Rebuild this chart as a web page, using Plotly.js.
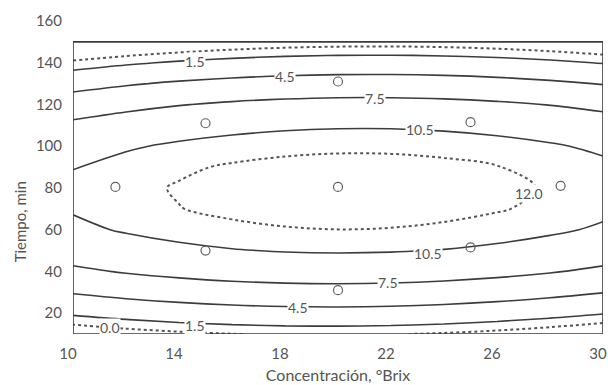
<!DOCTYPE html>
<html>
<head>
<meta charset="utf-8">
<script src="https://cdn.plot.ly/plotly-3.0.1.min.js"></script>
<style>html,body{margin:0;padding:0;background:#fff;}#chart{width:608px;height:385px;}</style>
</head>
<body>
<div id="chart"></div>
<script>
// Concentration (°Brix) grid
var brix = [10, 12, 14, 16, 18, 20, 22, 24, 26, 28, 30];
// Time (min) grid
var tiempo = [10, 20, 30, 40, 50, 60, 70, 80, 90, 100, 110, 120, 130, 140, 150];
// Response values (rows = tiempo, cols = brix)
var respuesta = [
  [-1.52, -0.87, -0.38, -0.04, 0.16, 0.20, 0.09, -0.17, -0.58, -1.14, -1.85],
  [1.87, 2.52, 3.03, 3.38, 3.59, 3.64, 3.54, 3.29, 2.89, 2.34, 1.64],
  [4.71, 5.38, 5.89, 6.26, 6.47, 6.54, 6.45, 6.21, 5.82, 5.28, 4.59],
  [7.02, 7.70, 8.22, 8.60, 8.82, 8.89, 8.82, 8.59, 8.21, 7.68, 7.00],
  [8.79, 9.47, 10.01, 10.39, 10.63, 10.71, 10.64, 10.43, 10.06, 9.54, 8.87],
  [10.01, 10.71, 11.25, 11.65, 11.89, 11.99, 11.93, 11.72, 11.36, 10.86, 10.20],
  [10.70, 11.40, 11.96, 12.36, 12.62, 12.72, 12.68, 12.48, 12.13, 11.63, 10.98],
  [10.84, 11.56, 12.13, 12.54, 12.81, 12.92, 12.88, 12.70, 12.36, 11.87, 11.23],
  [10.45, 11.18, 11.75, 12.18, 12.45, 12.58, 12.55, 12.38, 12.05, 11.57, 10.94],
  [9.51, 10.25, 10.84, 11.27, 11.56, 11.69, 11.68, 11.51, 11.20, 10.73, 10.11],
  [8.04, 8.79, 9.39, 9.83, 10.13, 10.27, 10.27, 10.11, 9.80, 9.35, 8.74],
  [6.03, 6.78, 7.39, 7.85, 8.15, 8.31, 8.31, 8.17, 7.87, 7.43, 6.83],
  [3.47, 4.24, 4.86, 5.32, 5.64, 5.81, 5.82, 5.69, 5.40, 4.96, 4.38],
  [0.38, 1.16, 1.78, 2.26, 2.59, 2.76, 2.79, 2.66, 2.39, 1.96, 1.38],
  [-3.26, -2.47, -1.83, -1.34, -1.01, -0.82, -0.78, -0.90, -1.17, -1.58, -2.15]
];
// Experimental design points
var puntosBrix = [11.6, 15, 15, 20, 20, 20, 25, 25, 28.4];
var puntosTiempo = [80.5, 111, 50, 131, 80.5, 31, 111.5, 51.5, 81];
// Contour label texts and where they sit
var etiquetas = ["1.5", "4.5", "7.5", "10.5", "12.0", "10.5", "7.5", "4.5", "1.5", "0.0"];
var etiquetaX = [14.6, 18.0, 21.4, 23.1, 27.2, 23.4, 21.9, 18.5, 14.6, 11.4];
var etiquetaY = [140.5, 133.2, 123.1, 108.2, 77.5, 48.8, 34.9, 22.9, 14.3, 13.3];
var yTicks = [20, 40, 60, 80, 100, 120, 140, 160];
var xTicks = [10, 14, 18, 22, 26, 30];

var FONT = "Lato, 'Open Sans', sans-serif";
var INK = "#3c3c3c";
var TXT = "#555555";

var traces = [
  {
    type: "contour", x: brix, y: tiempo, z: respuesta,
    showscale: false, hoverinfo: "skip",
    contours: {coloring: "none", start: 1.5, end: 10.5, size: 3, showlabels: false},
    line: {color: INK, width: 1.6, smoothing: 1}
  },
  {
    type: "contour", x: brix, y: tiempo, z: respuesta,
    showscale: false, hoverinfo: "skip",
    contours: {coloring: "none", start: 0, end: 12, size: 12, showlabels: false},
    line: {color: "#555", width: 2, dash: "dot", smoothing: 1}
  },
  {
    type: "scatter", mode: "markers", x: puntosBrix, y: puntosTiempo,
    hoverinfo: "skip", showlegend: false,
    marker: {symbol: "circle-open", size: 9, color: "#606060", line: {width: 1.2, color: "#606060"}}
  }
];

var annotations = etiquetas.map(function (t, i) {
  return {
    x: etiquetaX[i], y: etiquetaY[i], xref: "x", yref: "y", text: t, showarrow: false,
    font: {family: FONT, size: 14, color: TXT}, bgcolor: "#ffffff", borderpad: 0
  };
});
annotations.push({
  xref: "paper", yref: "y", x: -0.100, y: 63.5, xanchor: "center", yanchor: "middle",
  text: "Tiempo, min", textangle: -90, showarrow: false,
  font: {family: FONT, size: 15, color: TXT}
});

var layout = {
  width: 608, height: 385,
  margin: {l: 73, r: 5, t: 21, b: 51},
  paper_bgcolor: "#ffffff", plot_bgcolor: "rgba(0,0,0,0)",
  showlegend: false,
  font: {family: FONT, color: TXT},
  xaxis: {
    range: [10, 30], tickvals: xTicks, ticktext: xTicks.map(String), ticks: "",
    showgrid: false, zeroline: false, showline: false,
    tickfont: {family: FONT, size: 15, color: TXT},
    ticklabelstandoff: 9, ticklabelshift: -5,
    title: {text: "Concentración, °Brix", font: {family: FONT, size: 16, color: TXT}, standoff: 8}
  },
  yaxis: {
    range: [10, 160], tickvals: yTicks, ticktext: yTicks.map(String), ticks: "",
    showgrid: false, zeroline: false, showline: false,
    tickfont: {family: FONT, size: 15, color: TXT},
    ticklabelstandoff: 10
  },
  shapes: [{
    type: "rect", xref: "x", yref: "y", x0: 10, x1: 30, y0: 10, y1: 150,
    line: {color: INK, width: 1.6}, layer: "above"
  }],
  annotations: annotations
};

Plotly.newPlot("chart", traces, layout, {staticPlot: true, displayModeBar: false});
</script>
</body>
</html>
